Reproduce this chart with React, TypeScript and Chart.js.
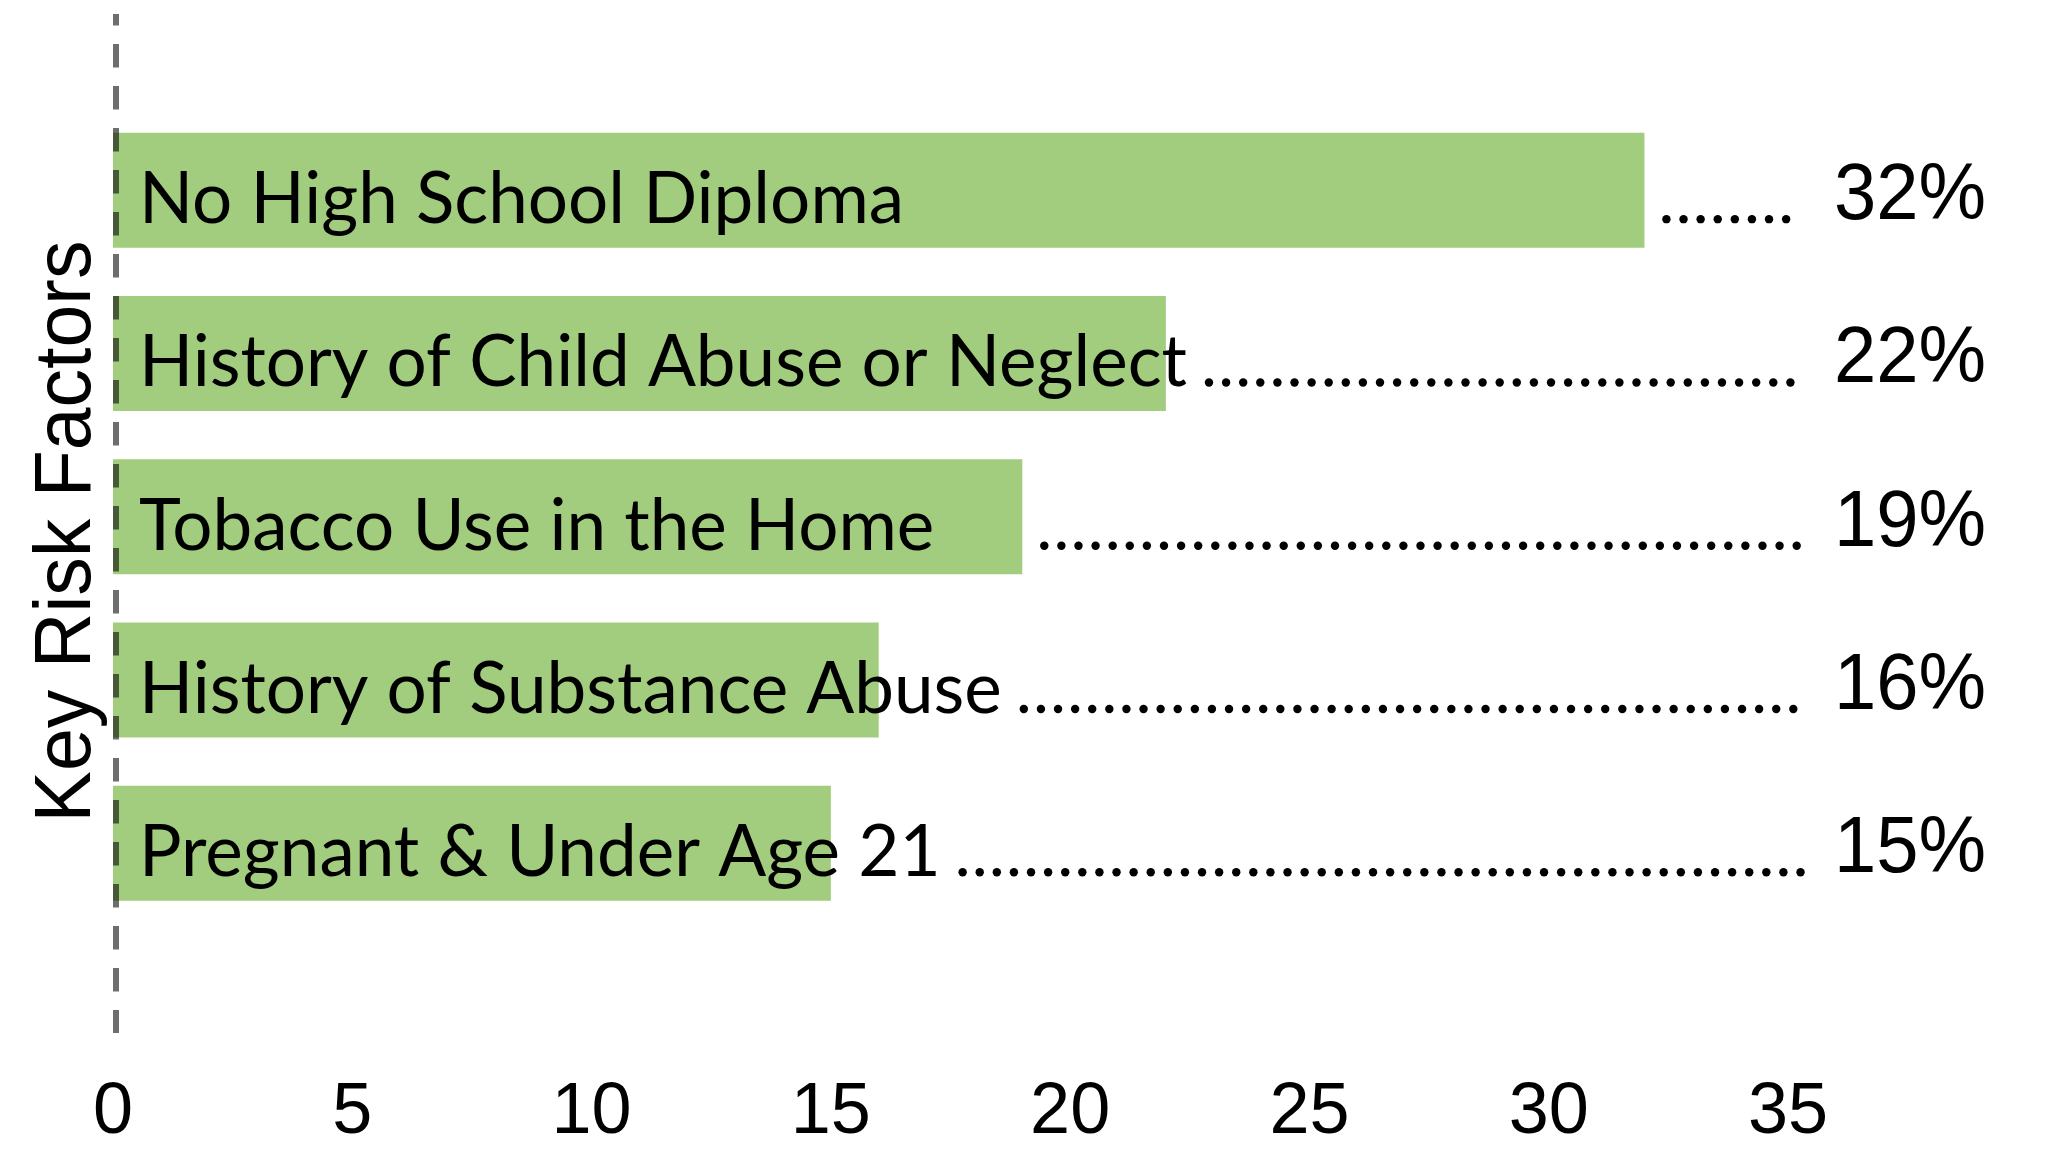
import React, { useEffect, useRef } from 'react';
import { Chart, registerables } from 'chart.js';

Chart.register(...registerables);

const categories = [
  'No High School Diploma',
  'History of Child Abuse or Neglect',
  'Tobacco Use in the Home',
  'History of Substance Abuse',
  'Pregnant & Under Age 21',
];
const values = [32, 22, 19, 16, 15];
const valueLabels = ['32%', '22%', '19%', '16%', '15%'];
const xTicks = [0, 5, 10, 15, 20, 25, 30, 35];
const axisTitle = 'Key Risk Factors';

const BAR_COLOR = '#a2cd7e';

const rowLabelPlugin = {
  id: 'rowLabels',
  afterDatasetsDraw(chart: any) {
    const { ctx, chartArea } = chart;
    const meta = chart.getDatasetMeta(0);
    const xScale = chart.scales.x;
    ctx.save();
    meta.data.forEach((bar: any, i: number) => {
      const cy = bar.y;
      const barEnd = bar.x;
      const base = cy + 33;
      ctx.fillStyle = '#000';
      ctx.font = '71px Lato';
      ctx.textAlign = 'left';
      ctx.textBaseline = 'alphabetic';
      const tx = xScale.left + 26;
      ctx.fillText(categories[i], tx, base);
      const textEnd = tx + ctx.measureText(categories[i]).width;
      const start = Math.max(textEnd, barEnd) + 22;
      const end = xScale.right + 14;
      const step = 17.1;
      for (let d = start; d <= end; d += step) {
        ctx.beginPath();
        ctx.arc(d, cy + 29, 4.2, 0, Math.PI * 2);
        ctx.fill();
      }
      // percentage label
      ctx.save();
      ctx.translate(xScale.right + 122, cy);
      ctx.scale(1, 1.06);
      ctx.font = '76px "Liberation Sans"';
      ctx.textAlign = 'center';
      ctx.fillText(valueLabels[i], 0, 0.358 * 76);
      ctx.restore();
    });

    // dashed zero line
    const x0 = xScale.getPixelForValue(0) + 3;
    ctx.strokeStyle = 'rgba(0,0,0,0.57)';
    ctx.lineWidth = 6;
    ctx.setLineDash([23.5, 18.5]);
    ctx.lineDashOffset = 12;
    ctx.beginPath();
    ctx.moveTo(x0, chartArea.top);
    ctx.lineTo(x0, chartArea.bottom);
    ctx.stroke();
    ctx.setLineDash([]);

    // axis title
    ctx.save();
    ctx.translate(61.5, (chartArea.top + chartArea.bottom) / 2 + 8);
    ctx.rotate(-Math.PI / 2);
    ctx.scale(1, 1.04);
    ctx.fillStyle = '#000';
    ctx.font = '77px "Liberation Sans"';
    ctx.textAlign = 'center';
    ctx.textBaseline = 'alphabetic';
    ctx.fillText(axisTitle, 0, 0.358 * 77);
    ctx.restore();

    ctx.restore();
  },
};

export default function App() {
  const canvasRef = useRef<HTMLCanvasElement | null>(null);

  useEffect(() => {
    document.body.style.margin = '0';
    const canvas = canvasRef.current;
    if (!canvas) return;
    const chart = new Chart(canvas, {
      type: 'bar',
      data: {
        datasets: [
          {
            data: categories.map((c, i) => ({ x: values[i], y: i + 1 })),
            backgroundColor: BAR_COLOR,
            borderWidth: 0,
            categoryPercentage: 1,
            barPercentage: 0.704,
          },
        ],
      },
      options: {
        indexAxis: 'y',
        animation: false,
        responsive: false,
        devicePixelRatio: 1,
        layout: { padding: { top: 14, right: 265, bottom: 3, left: 0 } },
        plugins: { legend: { display: false }, tooltip: { enabled: false } },
        scales: {
          x: {
            type: 'linear',
            min: 0,
            max: 35,
            offset: false,
            afterBuildTicks: (scale: any) => {
              scale.ticks = xTicks.map((v) => ({ value: v }));
            },
            afterFit: (scale: any) => {
              scale.height = 116;
            },
            grid: { display: false, drawTicks: false },
            border: { display: false },
            ticks: {
              color: '#000',
              padding: 44,
              maxRotation: 0,
              autoSkip: false,
              font: { family: 'Liberation Sans', size: 72, lineHeight: 1 },
            },
          },
          y: {
            type: 'linear',
            reverse: true,
            offset: false,
            min: -0.079,
            max: 6.162,
            afterFit: (scale: any) => {
              scale.width = 113;
            },
            ticks: { display: false, stepSize: 1, includeBounds: false },
            grid: { display: false, drawTicks: false, offset: false },
            border: { display: false },
            title: { display: false },
          },
        },
      },
      plugins: [rowLabelPlugin],
    } as any);
    return () => chart.destroy();
  }, []);

  return (
    <div style={{ width: 2053, height: 1152, background: '#fff' }}>
      <canvas ref={canvasRef} width={2053} height={1152} style={{ display: 'block' }} />
    </div>
  );
}
